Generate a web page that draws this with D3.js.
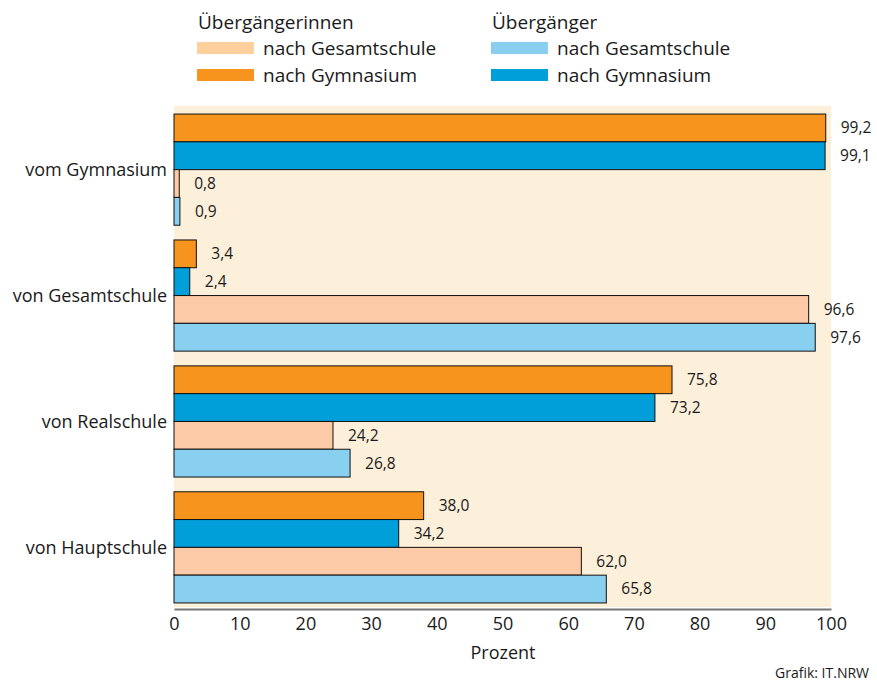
<!DOCTYPE html>
<meta charset="utf-8">
<style>
body { margin: 0; background: #fff; }
text { font-family: "Open Sans", "Noto Sans", sans-serif; fill: #1a1a1a; }
</style>
<body>
<script src="https://d3js.org/d3.v7.min.js"></script>
<script>
// Herkunftsschulen (Kategorien)
var schulen = ["vom Gymnasium", "von Gesamtschule", "von Realschule", "von Hauptschule"];
// Reihen, in Reihenfolge der Balken je Gruppe
var reihen = ["w_gym", "m_gym", "w_ges", "m_ges"];
var w_gym = [99.2, 3.4, 75.8, 38.0];
var m_gym = [99.1, 2.4, 73.2, 34.2];
var w_ges = [0.8, 96.6, 24.2, 62.0];
var m_ges = [0.9, 97.6, 26.8, 65.8];
var xTicks = [0, 10, 20, 30, 40, 50, 60, 70, 80, 90, 100];

var werte = {w_gym: w_gym, m_gym: m_gym, w_ges: w_ges, m_ges: m_ges};
var farbe = {w_gym: "#f7941d", m_gym: "#009fda", w_ges: "#fccaa6", m_ges: "#89cff0"};
var legFarbe = {w_ges: "#fed09e", w_gym: "#f7941d", m_ges: "#89d0f0", m_gym: "#009fda"};

var width = 877, height = 681;
var svg = d3.select("body").append("svg")
    .attr("width", width)
    .attr("height", height);

var x = d3.scaleLinear().domain([0, 100]).range([174, 831]);
var y = d3.scaleBand().domain(schulen).range([107, 610])
    .paddingInner(0.117).paddingOuter(0.056);
var yi = d3.scaleBand().domain(reihen).range([0, y.bandwidth()]);

// Hintergrund
svg.append("rect")
    .attr("x", x(0)).attr("y", 106)
    .attr("width", x(100) - x(0)).attr("height", 501)
    .attr("fill", "#fdf0db");

var fmt = function(v) { return d3.format(".1f")(v).replace(".", ","); };

var gruppe = svg.selectAll(".gruppe")
    .data(schulen)
  .enter().append("g")
    .attr("class", "gruppe")
    .attr("transform", function(d) { return "translate(0," + y(d) + ")"; });

reihen.forEach(function(r) {
  gruppe.append("rect")
    .attr("x", x(0))
    .attr("y", yi(r))
    .attr("width", function(d, i) { return x(werte[r][i]) - x(0); })
    .attr("height", yi.bandwidth())
    .attr("fill", farbe[r])
    .attr("stroke", "#111")
    .attr("stroke-width", 1);
  gruppe.append("text")
    .attr("x", function(d, i) { return x(werte[r][i]) + 15; })
    .attr("y", yi(r) + yi.bandwidth() / 2)
    .attr("dy", "0.35em")
    .style("font-size", "15.5px")
    .text(function(d, i) { return fmt(werte[r][i]); });
});

// Kategorien
svg.selectAll(".kat")
    .data(schulen)
  .enter().append("text")
    .attr("class", "kat")
    .attr("x", 167)
    .attr("y", function(d) { return y(d) + y.bandwidth() / 2; })
    .attr("dy", "0.35em")
    .attr("text-anchor", "end")
    .style("font-size", "18px")
    .text(function(d) { return d; });

// x-Achse
var ax = svg.append("g")
    .attr("transform", "translate(0,609)")
    .call(d3.axisBottom(x).tickValues(xTicks).tickSize(0).tickPadding(8));
ax.select(".domain").attr("stroke", "#777").attr("stroke-width", 2);
ax.selectAll("text").style("font-size", "18px").attr("fill", "#1a1a1a")
    .style("font-family", "'Open Sans', sans-serif");

svg.append("text")
    .attr("x", 503).attr("y", 659)
    .attr("text-anchor", "middle")
    .style("font-size", "18px")
    .text("Prozent");

svg.append("text")
    .attr("x", 869).attr("y", 678)
    .attr("text-anchor", "end")
    .style("font-size", "14px")
    .text("Grafik: IT.NRW");

// Legende
var legende = [
  {titel: "Übergängerinnen", x: 197, eintraege: ["w_ges", "w_gym"]},
  {titel: "Übergänger", x: 491, eintraege: ["m_ges", "m_gym"]}
];
var namen = {w_ges: "nach Gesamtschule", w_gym: "nach Gymnasium", m_ges: "nach Gesamtschule", m_gym: "nach Gymnasium"};
legende.forEach(function(l) {
  svg.append("text")
    .attr("x", l.x + 1).attr("y", 29)
    .style("font-size", "19px")
    .text(l.titel);
  l.eintraege.forEach(function(r, i) {
    svg.append("rect")
      .attr("x", l.x).attr("y", 42 + i * 27)
      .attr("width", 57).attr("height", 12)
      .attr("fill", legFarbe[r]);
    svg.append("text")
      .attr("x", l.x + 66).attr("y", 48 + i * 27)
      .attr("dy", "0.35em")
      .style("font-size", "19px")
      .text(namen[r]);
  });
});
</script>
